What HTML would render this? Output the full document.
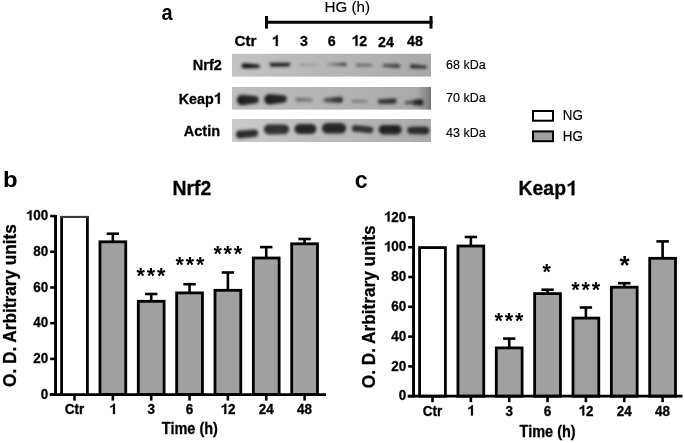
<!DOCTYPE html>
<html><head><meta charset="utf-8"><style>
html,body{margin:0;padding:0;background:#fff;}
svg{will-change:transform;display:block;font-family:"Liberation Sans", sans-serif;}
text[font-weight=bold]{stroke:#000;stroke-width:0.3px;}
text[font-weight=normal]{stroke:#000;stroke-width:0.15px;}
</style></head><body>
<svg width="685" height="443" viewBox="0 0 685 443">
<rect width="685" height="443" fill="#fff"/>
<text transform="translate(161.5,20.0) scale(0.885,1)" font-size="22.6" font-weight="bold" style="stroke:none">a</text>
<text transform="translate(324.55,11.90) scale(0.98,1)" font-size="15.5" font-weight="normal" text-anchor="start">HG (h)</text>
<line x1="265" y1="22.3" x2="432.5" y2="22.3" stroke="#000" stroke-width="3"/>
<line x1="266.5" y1="16" x2="266.5" y2="28.6" stroke="#000" stroke-width="3"/>
<line x1="431" y1="16" x2="431" y2="28.6" stroke="#000" stroke-width="3"/>
<text transform="translate(245.40,46.35) scale(1.0,1)" font-size="15.2" font-weight="bold" text-anchor="middle">Ctr</text>
<text transform="translate(275.60,45.90) scale(0.95,1)" font-size="15.0" font-weight="bold" text-anchor="middle"><tspan style="fill:none;stroke:none">1</tspan></text>
<path transform="translate(271.64,45.90) scale(14.250,-15.000)" d="M0.43,0 L0.43,0.716 L0.335,0.716 C0.30,0.63 0.21,0.575 0.09,0.545 L0.09,0.43 C0.165,0.455 0.235,0.49 0.29,0.535 L0.29,0 Z" stroke="#000" stroke-width="0.3" vector-effect="non-scaling-stroke"/>
<text transform="translate(303.85,45.75) scale(0.95,1)" font-size="15.0" font-weight="bold" text-anchor="middle">3</text>
<text transform="translate(331.75,45.65) scale(0.95,1)" font-size="15.0" font-weight="bold" text-anchor="middle">6</text>
<text transform="translate(359.30,45.80) scale(0.95,1)" font-size="15.0" font-weight="bold" text-anchor="middle"><tspan style="fill:none;stroke:none">1</tspan>2</text>
<path transform="translate(351.37,45.80) scale(14.250,-15.000)" d="M0.43,0 L0.43,0.716 L0.335,0.716 C0.30,0.63 0.21,0.575 0.09,0.545 L0.09,0.43 C0.165,0.455 0.235,0.49 0.29,0.535 L0.29,0 Z" stroke="#000" stroke-width="0.3" vector-effect="non-scaling-stroke"/>
<text transform="translate(385.90,46.60) scale(0.95,1)" font-size="15.0" font-weight="bold" text-anchor="middle">24</text>
<text transform="translate(414.95,45.75) scale(0.95,1)" font-size="15.0" font-weight="bold" text-anchor="middle">48</text>
<text transform="translate(221.80,70.15) scale(0.95,1)" font-size="15.3" font-weight="bold" text-anchor="end">Nrf2</text>
<text transform="translate(221.60,103.75) scale(0.935,1)" font-size="15.3" font-weight="bold" text-anchor="end">Keap<tspan style="fill:none;stroke:none">1</tspan></text>
<path transform="translate(213.64,103.75) scale(14.306,-15.300)" d="M0.43,0 L0.43,0.716 L0.335,0.716 C0.30,0.63 0.21,0.575 0.09,0.545 L0.09,0.43 C0.165,0.455 0.235,0.49 0.29,0.535 L0.29,0 Z" stroke="#000" stroke-width="0.3" vector-effect="non-scaling-stroke"/>
<text transform="translate(220.10,136.00) scale(0.95,1)" font-size="15.3" font-weight="bold" text-anchor="end">Actin</text>
<text x="446.00" y="69.30" font-size="12.5" font-weight="normal" text-anchor="start" >68 kDa</text>
<text x="446.00" y="101.90" font-size="12.5" font-weight="normal" text-anchor="start" >70 kDa</text>
<text x="446.00" y="136.90" font-size="12.5" font-weight="normal" text-anchor="start" >43 kDa</text>
<defs><filter id="bl" x="-30%" y="-100%" width="160%" height="300%"><feGaussianBlur stdDeviation="1.5"/></filter><linearGradient id="bg0" x1="0" x2="1" y1="0" y2="0"><stop offset="0" stop-color="#c3c3c3"/><stop offset="1" stop-color="#a8a8a8"/></linearGradient><linearGradient id="g1" x1="0" x2="1" y1="0" y2="0"><stop offset="0" stop-color="rgb(8,8,8)"/><stop offset="1" stop-color="rgb(30,30,30)"/></linearGradient><linearGradient id="g2" x1="0" x2="1" y1="0" y2="0"><stop offset="0" stop-color="rgb(30,30,30)"/><stop offset="1" stop-color="rgb(28,28,28)"/></linearGradient><linearGradient id="g3" x1="0" x2="1" y1="0" y2="0"><stop offset="0" stop-color="rgb(150,150,150)"/><stop offset="1" stop-color="rgb(158,158,158)"/></linearGradient><linearGradient id="g4" x1="0" x2="1" y1="0" y2="0"><stop offset="0" stop-color="rgb(140,140,140)"/><stop offset="1" stop-color="rgb(55,55,55)"/></linearGradient><linearGradient id="g5" x1="0" x2="1" y1="0" y2="0"><stop offset="0" stop-color="rgb(95,95,95)"/><stop offset="1" stop-color="rgb(100,100,100)"/></linearGradient><linearGradient id="g6" x1="0" x2="1" y1="0" y2="0"><stop offset="0" stop-color="rgb(85,85,85)"/><stop offset="1" stop-color="rgb(40,40,40)"/></linearGradient><linearGradient id="g7" x1="0" x2="1" y1="0" y2="0"><stop offset="0" stop-color="rgb(35,35,35)"/><stop offset="1" stop-color="rgb(60,60,60)"/></linearGradient><linearGradient id="bg1" x1="0" x2="1" y1="0" y2="0"><stop offset="0" stop-color="#bebebe"/><stop offset="1" stop-color="#a8a8a8"/></linearGradient><linearGradient id="g8" x1="0" x2="1" y1="0" y2="0"><stop offset="0" stop-color="rgb(28,28,28)"/><stop offset="1" stop-color="rgb(40,40,40)"/></linearGradient><linearGradient id="g9" x1="0" x2="1" y1="0" y2="0"><stop offset="0" stop-color="rgb(28,28,28)"/><stop offset="1" stop-color="rgb(40,40,40)"/></linearGradient><linearGradient id="g10" x1="0" x2="1" y1="0" y2="0"><stop offset="0" stop-color="rgb(100,100,100)"/><stop offset="1" stop-color="rgb(120,120,120)"/></linearGradient><linearGradient id="g11" x1="0" x2="1" y1="0" y2="0"><stop offset="0" stop-color="rgb(95,95,95)"/><stop offset="1" stop-color="rgb(38,38,38)"/></linearGradient><linearGradient id="g12" x1="0" x2="1" y1="0" y2="0"><stop offset="0" stop-color="rgb(122,122,122)"/><stop offset="1" stop-color="rgb(128,128,128)"/></linearGradient><linearGradient id="g13" x1="0" x2="1" y1="0" y2="0"><stop offset="0" stop-color="rgb(60,60,60)"/><stop offset="1" stop-color="rgb(45,45,45)"/></linearGradient><linearGradient id="g14" x1="0" x2="1" y1="0" y2="0"><stop offset="0" stop-color="rgb(85,85,85)"/><stop offset="1" stop-color="rgb(70,70,70)"/></linearGradient><linearGradient id="g15" x1="0" x2="1" y1="0" y2="0"><stop offset="0" stop-color="rgb(45,45,45)"/><stop offset="1" stop-color="rgb(30,30,30)"/></linearGradient><linearGradient id="bg2" x1="0" x2="1" y1="0" y2="0"><stop offset="0" stop-color="#cbcbcb"/><stop offset="1" stop-color="#a9a9a9"/></linearGradient><linearGradient id="g16" x1="0" x2="1" y1="0" y2="0"><stop offset="0" stop-color="rgb(42,42,42)"/><stop offset="1" stop-color="rgb(48,48,48)"/></linearGradient><linearGradient id="g17" x1="0" x2="1" y1="0" y2="0"><stop offset="0" stop-color="rgb(50,50,50)"/><stop offset="1" stop-color="rgb(50,50,50)"/></linearGradient><linearGradient id="g18" x1="0" x2="1" y1="0" y2="0"><stop offset="0" stop-color="rgb(40,40,40)"/><stop offset="1" stop-color="rgb(40,40,40)"/></linearGradient><linearGradient id="g19" x1="0" x2="1" y1="0" y2="0"><stop offset="0" stop-color="rgb(38,38,38)"/><stop offset="1" stop-color="rgb(38,38,38)"/></linearGradient><linearGradient id="g20" x1="0" x2="1" y1="0" y2="0"><stop offset="0" stop-color="rgb(50,50,50)"/><stop offset="1" stop-color="rgb(50,50,50)"/></linearGradient><linearGradient id="g21" x1="0" x2="1" y1="0" y2="0"><stop offset="0" stop-color="rgb(32,32,32)"/><stop offset="1" stop-color="rgb(32,32,32)"/></linearGradient><linearGradient id="g22" x1="0" x2="1" y1="0" y2="0"><stop offset="0" stop-color="rgb(42,42,42)"/><stop offset="1" stop-color="rgb(40,40,40)"/></linearGradient><linearGradient id="sh" x1="0" x2="1" y1="0" y2="0"><stop offset="0" stop-color="#000" stop-opacity="0"/><stop offset="0.7" stop-color="#000" stop-opacity="0.18"/><stop offset="1" stop-color="#000" stop-opacity="0.32"/></linearGradient></defs>
<rect x="232" y="53.8" width="199" height="22.80" fill="url(#bg0)"/>
<path d="M244.10,63.30 L258.30,64.50 A1.70,1.70 0 0 1 258.30,67.90 L244.10,68.30 A2.50,2.50 0 0 1 244.10,63.30 Z" fill="url(#g1)" filter="url(#bl)"/>
<path d="M271.60,62.80 L288.40,62.70 A1.90,1.90 0 0 1 288.40,66.50 L271.60,66.80 A2.00,2.00 0 0 1 271.60,62.80 Z" fill="url(#g2)" filter="url(#bl)"/>
<path d="M300.00,64.00 L316.00,64.10 A0.90,0.90 0 0 1 316.00,65.90 L300.00,66.00 A1.00,1.00 0 0 1 300.00,64.00 Z" fill="url(#g3)" filter="url(#bl)"/>
<path d="M327.90,63.60 L344.90,62.70 A1.70,1.70 0 0 1 344.90,66.10 L327.90,65.60 A1.00,1.00 0 0 1 327.90,63.60 Z" fill="url(#g4)" filter="url(#bl)"/>
<path d="M356.90,63.80 L371.20,63.90 A1.20,1.20 0 0 1 371.20,66.30 L356.90,66.40 A1.30,1.30 0 0 1 356.90,63.80 Z" fill="url(#g5)" filter="url(#bl)"/>
<path d="M383.90,64.10 L398.50,64.30 A1.70,1.70 0 0 1 398.50,67.70 L383.90,67.10 A1.50,1.50 0 0 1 383.90,64.10 Z" fill="url(#g6)" filter="url(#bl)"/>
<path d="M411.90,64.30 L425.60,65.60 A1.60,1.60 0 0 1 425.60,68.80 L411.90,68.30 A2.00,2.00 0 0 1 411.90,64.30 Z" fill="url(#g7)" filter="url(#bl)"/>
<rect x="232" y="87.0" width="199" height="22.60" fill="url(#bg1)"/>
<path d="M242.10,94.70 L255.00,96.10 A3.70,3.70 0 0 1 255.00,103.50 L242.10,105.30 A5.30,5.30 0 0 1 242.10,94.70 Z" fill="url(#g8)" filter="url(#bl)"/>
<path d="M269.50,93.90 L283.10,95.30 A3.70,3.70 0 0 1 283.10,102.70 L269.50,104.50 A5.30,5.30 0 0 1 269.50,93.90 Z" fill="url(#g9)" filter="url(#bl)"/>
<path d="M297.30,97.80 L311.40,98.40 A1.50,1.50 0 0 1 311.40,101.40 L297.30,101.60 A1.90,1.90 0 0 1 297.30,97.80 Z" fill="url(#g10)" filter="url(#bl)"/>
<path d="M325.50,98.10 L339.90,96.70 A3.10,3.10 0 0 1 339.90,102.90 L325.50,102.30 A2.10,2.10 0 0 1 325.50,98.10 Z" fill="url(#g11)" filter="url(#bl)"/>
<path d="M353.30,99.80 L366.50,100.00 A1.30,1.30 0 0 1 366.50,102.60 L353.30,102.80 A1.50,1.50 0 0 1 353.30,99.80 Z" fill="url(#g12)" filter="url(#bl)"/>
<path d="M379.90,99.30 L393.90,98.30 A2.70,2.70 0 0 1 393.90,103.70 L379.90,103.90 A2.30,2.30 0 0 1 379.90,99.30 Z" fill="url(#g13)" filter="url(#bl)"/>
<path d="M406.20,101.00 L413.50,100.50 A1.90,1.90 0 0 1 413.50,104.30 L406.20,104.20 A1.60,1.60 0 0 1 406.20,101.00 Z" fill="url(#g14)" filter="url(#bl)"/>
<path d="M416.10,99.50 L420.50,99.30 A3.10,3.10 0 0 1 420.50,105.50 L416.10,105.30 A2.90,2.90 0 0 1 416.10,99.50 Z" fill="url(#g15)" filter="url(#bl)"/>
<rect x="232" y="119.0" width="199" height="23.00" fill="url(#bg2)"/>
<path d="M239.90,130.40 L254.50,129.50 A3.70,3.70 0 0 1 254.50,136.90 L239.90,138.40 A4.00,4.00 0 0 1 239.90,130.40 Z" fill="url(#g16)" filter="url(#bl)"/>
<path d="M268.90,124.20 L284.30,124.40 A4.90,4.90 0 0 1 284.30,134.20 L268.90,134.40 A5.10,5.10 0 0 1 268.90,124.20 Z" fill="url(#g17)" filter="url(#bl)"/>
<path d="M299.40,124.00 L311.40,124.00 A5.00,5.00 0 0 1 311.40,134.00 L299.40,134.00 A5.00,5.00 0 0 1 299.40,124.00 Z" fill="url(#g18)" filter="url(#bl)"/>
<path d="M327.10,123.00 L341.00,123.00 A5.30,5.30 0 0 1 341.00,133.60 L327.10,133.60 A5.30,5.30 0 0 1 327.10,123.00 Z" fill="url(#g19)" filter="url(#bl)"/>
<path d="M355.20,125.00 L369.90,126.40 A3.40,3.40 0 0 1 369.90,133.20 L355.20,131.80 A3.40,3.40 0 0 1 355.20,125.00 Z" fill="url(#g20)" filter="url(#bl)"/>
<path d="M383.30,125.10 L397.00,125.10 A4.70,4.70 0 0 1 397.00,134.50 L383.30,134.50 A4.70,4.70 0 0 1 383.30,125.10 Z" fill="url(#g21)" filter="url(#bl)"/>
<path d="M410.80,126.70 L425.10,126.40 A4.10,4.10 0 0 1 425.10,134.60 L410.80,133.90 A3.60,3.60 0 0 1 410.80,126.70 Z" fill="url(#g22)" filter="url(#bl)"/>
<rect x="416" y="87" width="15" height="22.6" fill="url(#sh)"/>
<rect x="533" y="111" width="20" height="9.7" fill="#fff" stroke="#000" stroke-width="2"/>
<rect x="533" y="131.4" width="20" height="9.8" fill="#a0a0a0" stroke="#000" stroke-width="2"/>
<text transform="translate(562.80,119.90) scale(0.905,1)" font-size="14.8" font-weight="normal" text-anchor="start">NG</text>
<text transform="translate(562.80,140.60) scale(0.905,1)" font-size="14.8" font-weight="normal" text-anchor="start">HG</text>
<line x1="50.2" y1="394.60" x2="55.550000000000004" y2="394.60" stroke="#000" stroke-width="2.6"/>
<text transform="translate(48.20,398.80) scale(0.955,1)" font-size="14.1" font-weight="bold" text-anchor="end">0</text>
<line x1="50.2" y1="358.89" x2="55.550000000000004" y2="358.89" stroke="#000" stroke-width="2.6"/>
<text transform="translate(48.20,363.09) scale(0.955,1)" font-size="14.1" font-weight="bold" text-anchor="end">20</text>
<line x1="50.2" y1="323.18" x2="55.550000000000004" y2="323.18" stroke="#000" stroke-width="2.6"/>
<text transform="translate(48.20,327.38) scale(0.955,1)" font-size="14.1" font-weight="bold" text-anchor="end">40</text>
<line x1="50.2" y1="287.47" x2="55.550000000000004" y2="287.47" stroke="#000" stroke-width="2.6"/>
<text transform="translate(48.20,291.67) scale(0.955,1)" font-size="14.1" font-weight="bold" text-anchor="end">60</text>
<line x1="50.2" y1="251.76" x2="55.550000000000004" y2="251.76" stroke="#000" stroke-width="2.6"/>
<text transform="translate(48.20,255.96) scale(0.955,1)" font-size="14.1" font-weight="bold" text-anchor="end">80</text>
<line x1="50.2" y1="216.05" x2="55.550000000000004" y2="216.05" stroke="#000" stroke-width="2.6"/>
<text transform="translate(48.20,220.25) scale(0.955,1)" font-size="14.1" font-weight="bold" text-anchor="end"><tspan style="fill:none;stroke:none">1</tspan>00</text>
<path transform="translate(25.73,220.25) scale(13.465,-14.100)" d="M0.43,0 L0.43,0.716 L0.335,0.716 C0.30,0.63 0.21,0.575 0.09,0.545 L0.09,0.43 C0.165,0.455 0.235,0.49 0.29,0.535 L0.29,0 Z" stroke="#000" stroke-width="0.3" vector-effect="non-scaling-stroke"/>
<rect x="61.60" y="216.95" width="25.8" height="177.65" fill="#fff"/>
<line x1="61.60" y1="215.95" x2="61.60" y2="394.60" stroke="#000" stroke-width="2.8"/>
<line x1="87.40" y1="215.95" x2="87.40" y2="394.60" stroke="#000" stroke-width="2.8"/>
<line x1="60.20" y1="216.95" x2="88.80" y2="216.95" stroke="#3a3a3a" stroke-width="2.1"/>
<line x1="112.85" y1="233.7" x2="112.85" y2="241.8" stroke="#000" stroke-width="2.6"/>
<line x1="106.65" y1="233.7" x2="119.05" y2="233.7" stroke="#000" stroke-width="2.6"/>
<rect x="99.95" y="241.8" width="25.8" height="152.80" fill="#a0a0a0" stroke="#000" stroke-width="2.8"/>
<line x1="151.20" y1="294.0" x2="151.20" y2="301.3" stroke="#000" stroke-width="2.6"/>
<line x1="145.00" y1="294.0" x2="157.40" y2="294.0" stroke="#000" stroke-width="2.6"/>
<rect x="138.30" y="301.3" width="25.8" height="93.30" fill="#a0a0a0" stroke="#000" stroke-width="2.8"/>
<line x1="189.55" y1="284.2" x2="189.55" y2="292.9" stroke="#000" stroke-width="2.6"/>
<line x1="183.35" y1="284.2" x2="195.75" y2="284.2" stroke="#000" stroke-width="2.6"/>
<rect x="176.65" y="292.9" width="25.8" height="101.70" fill="#a0a0a0" stroke="#000" stroke-width="2.8"/>
<line x1="227.90" y1="272.5" x2="227.90" y2="290.3" stroke="#000" stroke-width="2.6"/>
<line x1="221.70" y1="272.5" x2="234.10" y2="272.5" stroke="#000" stroke-width="2.6"/>
<rect x="215.00" y="290.3" width="25.8" height="104.30" fill="#a0a0a0" stroke="#000" stroke-width="2.8"/>
<line x1="266.25" y1="247.1" x2="266.25" y2="258" stroke="#000" stroke-width="2.6"/>
<line x1="260.05" y1="247.1" x2="272.45" y2="247.1" stroke="#000" stroke-width="2.6"/>
<rect x="253.35" y="258" width="25.8" height="136.60" fill="#a0a0a0" stroke="#000" stroke-width="2.8"/>
<line x1="304.60" y1="239.0" x2="304.60" y2="243.8" stroke="#000" stroke-width="2.6"/>
<line x1="298.40" y1="239.0" x2="310.80" y2="239.0" stroke="#000" stroke-width="2.6"/>
<rect x="291.70" y="243.8" width="25.8" height="150.80" fill="#a0a0a0" stroke="#000" stroke-width="2.8"/>
<line x1="55.550000000000004" y1="215.0" x2="55.550000000000004" y2="395.8" stroke="#000" stroke-width="2.9"/>
<line x1="49.7" y1="394.6" x2="326" y2="394.6" stroke="#000" stroke-width="2.7"/>
<line x1="74.50" y1="394.6" x2="74.50" y2="400.6" stroke="#000" stroke-width="2.6"/>
<text transform="translate(74.50,413.90) scale(0.95,1)" font-size="14.2" font-weight="bold" text-anchor="middle">Ctr</text>
<line x1="112.85" y1="394.6" x2="112.85" y2="400.6" stroke="#000" stroke-width="2.6"/>
<text transform="translate(112.85,413.90) scale(0.95,1)" font-size="14.2" font-weight="bold" text-anchor="middle"><tspan style="fill:none;stroke:none">1</tspan></text>
<path transform="translate(109.10,413.90) scale(13.490,-14.200)" d="M0.43,0 L0.43,0.716 L0.335,0.716 C0.30,0.63 0.21,0.575 0.09,0.545 L0.09,0.43 C0.165,0.455 0.235,0.49 0.29,0.535 L0.29,0 Z" stroke="#000" stroke-width="0.3" vector-effect="non-scaling-stroke"/>
<line x1="151.20" y1="394.6" x2="151.20" y2="400.6" stroke="#000" stroke-width="2.6"/>
<text transform="translate(151.20,413.90) scale(0.95,1)" font-size="14.2" font-weight="bold" text-anchor="middle">3</text>
<line x1="189.55" y1="394.6" x2="189.55" y2="400.6" stroke="#000" stroke-width="2.6"/>
<text transform="translate(189.55,413.90) scale(0.95,1)" font-size="14.2" font-weight="bold" text-anchor="middle">6</text>
<line x1="227.90" y1="394.6" x2="227.90" y2="400.6" stroke="#000" stroke-width="2.6"/>
<text transform="translate(227.90,413.90) scale(0.95,1)" font-size="14.2" font-weight="bold" text-anchor="middle"><tspan style="fill:none;stroke:none">1</tspan>2</text>
<path transform="translate(220.40,413.90) scale(13.490,-14.200)" d="M0.43,0 L0.43,0.716 L0.335,0.716 C0.30,0.63 0.21,0.575 0.09,0.545 L0.09,0.43 C0.165,0.455 0.235,0.49 0.29,0.535 L0.29,0 Z" stroke="#000" stroke-width="0.3" vector-effect="non-scaling-stroke"/>
<line x1="266.25" y1="394.6" x2="266.25" y2="400.6" stroke="#000" stroke-width="2.6"/>
<text transform="translate(266.25,413.90) scale(0.95,1)" font-size="14.2" font-weight="bold" text-anchor="middle">24</text>
<line x1="304.60" y1="394.6" x2="304.60" y2="400.6" stroke="#000" stroke-width="2.6"/>
<text transform="translate(304.60,413.90) scale(0.95,1)" font-size="14.2" font-weight="bold" text-anchor="middle">48</text>
<text x="140.80" y="282.82" font-size="21.5" font-weight="bold" text-anchor="middle" style="stroke:none">*</text>
<text x="151.00" y="282.82" font-size="21.5" font-weight="bold" text-anchor="middle" style="stroke:none">*</text>
<text x="161.20" y="282.82" font-size="21.5" font-weight="bold" text-anchor="middle" style="stroke:none">*</text>
<text x="179.80" y="272.42" font-size="21.5" font-weight="bold" text-anchor="middle" style="stroke:none">*</text>
<text x="190.00" y="272.42" font-size="21.5" font-weight="bold" text-anchor="middle" style="stroke:none">*</text>
<text x="200.20" y="272.42" font-size="21.5" font-weight="bold" text-anchor="middle" style="stroke:none">*</text>
<text x="217.60" y="261.32" font-size="21.5" font-weight="bold" text-anchor="middle" style="stroke:none">*</text>
<text x="227.80" y="261.32" font-size="21.5" font-weight="bold" text-anchor="middle" style="stroke:none">*</text>
<text x="238.00" y="261.32" font-size="21.5" font-weight="bold" text-anchor="middle" style="stroke:none">*</text>
<text transform="translate(2.92,187.10) scale(1.05,1)" font-size="22.75" font-weight="bold" style="stroke:none">b</text>
<text transform="translate(172.50,195.10) scale(0.955,1)" font-size="20.3" font-weight="bold" text-anchor="start">Nrf2</text>
<text transform="translate(161.79,434.35) scale(0.93,1)" font-size="15.6" font-weight="bold" text-anchor="start">Time (h)</text>
<text transform="translate(16.1,305.55) rotate(-90) scale(0.956,1)" x="0" y="0" font-size="18" font-weight="bold" text-anchor="middle">O. D. Arbitrary units</text>
<line x1="408.2" y1="396.20" x2="413.55" y2="396.20" stroke="#000" stroke-width="2.6"/>
<text transform="translate(406.20,400.40) scale(0.955,1)" font-size="14.1" font-weight="bold" text-anchor="end">0</text>
<line x1="408.2" y1="366.40" x2="413.55" y2="366.40" stroke="#000" stroke-width="2.6"/>
<text transform="translate(406.20,370.60) scale(0.955,1)" font-size="14.1" font-weight="bold" text-anchor="end">20</text>
<line x1="408.2" y1="336.60" x2="413.55" y2="336.60" stroke="#000" stroke-width="2.6"/>
<text transform="translate(406.20,340.80) scale(0.955,1)" font-size="14.1" font-weight="bold" text-anchor="end">40</text>
<line x1="408.2" y1="306.80" x2="413.55" y2="306.80" stroke="#000" stroke-width="2.6"/>
<text transform="translate(406.20,311.00) scale(0.955,1)" font-size="14.1" font-weight="bold" text-anchor="end">60</text>
<line x1="408.2" y1="277.00" x2="413.55" y2="277.00" stroke="#000" stroke-width="2.6"/>
<text transform="translate(406.20,281.20) scale(0.955,1)" font-size="14.1" font-weight="bold" text-anchor="end">80</text>
<line x1="408.2" y1="247.20" x2="413.55" y2="247.20" stroke="#000" stroke-width="2.6"/>
<text transform="translate(406.20,251.40) scale(0.955,1)" font-size="14.1" font-weight="bold" text-anchor="end"><tspan style="fill:none;stroke:none">1</tspan>00</text>
<path transform="translate(383.73,251.40) scale(13.465,-14.100)" d="M0.43,0 L0.43,0.716 L0.335,0.716 C0.30,0.63 0.21,0.575 0.09,0.545 L0.09,0.43 C0.165,0.455 0.235,0.49 0.29,0.535 L0.29,0 Z" stroke="#000" stroke-width="0.3" vector-effect="non-scaling-stroke"/>
<line x1="408.2" y1="217.40" x2="413.55" y2="217.40" stroke="#000" stroke-width="2.6"/>
<text transform="translate(406.20,221.60) scale(0.955,1)" font-size="14.1" font-weight="bold" text-anchor="end"><tspan style="fill:none;stroke:none">1</tspan>20</text>
<path transform="translate(383.73,221.60) scale(13.465,-14.100)" d="M0.43,0 L0.43,0.716 L0.335,0.716 C0.30,0.63 0.21,0.575 0.09,0.545 L0.09,0.43 C0.165,0.455 0.235,0.49 0.29,0.535 L0.29,0 Z" stroke="#000" stroke-width="0.3" vector-effect="non-scaling-stroke"/>
<rect x="419.60" y="247.6" width="25.8" height="148.60" fill="#fff" stroke="#000" stroke-width="2.8"/>
<line x1="470.85" y1="237.0" x2="470.85" y2="246.0" stroke="#000" stroke-width="2.6"/>
<line x1="464.65" y1="237.0" x2="477.05" y2="237.0" stroke="#000" stroke-width="2.6"/>
<rect x="457.95" y="246.0" width="25.8" height="150.20" fill="#a0a0a0" stroke="#000" stroke-width="2.8"/>
<line x1="509.20" y1="338.59999999999997" x2="509.20" y2="347.9" stroke="#000" stroke-width="2.6"/>
<line x1="503.00" y1="338.59999999999997" x2="515.40" y2="338.59999999999997" stroke="#000" stroke-width="2.6"/>
<rect x="496.30" y="347.9" width="25.8" height="48.30" fill="#a0a0a0" stroke="#000" stroke-width="2.8"/>
<line x1="547.55" y1="289.7" x2="547.55" y2="293.6" stroke="#000" stroke-width="2.6"/>
<line x1="541.35" y1="289.7" x2="553.75" y2="289.7" stroke="#000" stroke-width="2.6"/>
<rect x="534.65" y="293.6" width="25.8" height="102.60" fill="#a0a0a0" stroke="#000" stroke-width="2.8"/>
<line x1="585.90" y1="307.5" x2="585.90" y2="318.1" stroke="#000" stroke-width="2.6"/>
<line x1="579.70" y1="307.5" x2="592.10" y2="307.5" stroke="#000" stroke-width="2.6"/>
<rect x="573.00" y="318.1" width="25.8" height="78.10" fill="#a0a0a0" stroke="#000" stroke-width="2.8"/>
<line x1="624.25" y1="283.2" x2="624.25" y2="287.2" stroke="#000" stroke-width="2.6"/>
<line x1="618.05" y1="283.2" x2="630.45" y2="283.2" stroke="#000" stroke-width="2.6"/>
<rect x="611.35" y="287.2" width="25.8" height="109.00" fill="#a0a0a0" stroke="#000" stroke-width="2.8"/>
<line x1="662.60" y1="241.39999999999998" x2="662.60" y2="258.3" stroke="#000" stroke-width="2.6"/>
<line x1="656.40" y1="241.39999999999998" x2="668.80" y2="241.39999999999998" stroke="#000" stroke-width="2.6"/>
<rect x="649.70" y="258.3" width="25.8" height="137.90" fill="#a0a0a0" stroke="#000" stroke-width="2.8"/>
<line x1="413.55" y1="216.2" x2="413.55" y2="397.4" stroke="#000" stroke-width="2.9"/>
<line x1="407.7" y1="396.2" x2="682.5" y2="396.2" stroke="#000" stroke-width="2.7"/>
<line x1="432.50" y1="396.2" x2="432.50" y2="402.2" stroke="#000" stroke-width="2.6"/>
<text transform="translate(432.50,415.50) scale(0.95,1)" font-size="14.2" font-weight="bold" text-anchor="middle">Ctr</text>
<line x1="470.85" y1="396.2" x2="470.85" y2="402.2" stroke="#000" stroke-width="2.6"/>
<text transform="translate(470.85,415.50) scale(0.95,1)" font-size="14.2" font-weight="bold" text-anchor="middle"><tspan style="fill:none;stroke:none">1</tspan></text>
<path transform="translate(467.10,415.50) scale(13.490,-14.200)" d="M0.43,0 L0.43,0.716 L0.335,0.716 C0.30,0.63 0.21,0.575 0.09,0.545 L0.09,0.43 C0.165,0.455 0.235,0.49 0.29,0.535 L0.29,0 Z" stroke="#000" stroke-width="0.3" vector-effect="non-scaling-stroke"/>
<line x1="509.20" y1="396.2" x2="509.20" y2="402.2" stroke="#000" stroke-width="2.6"/>
<text transform="translate(509.20,415.50) scale(0.95,1)" font-size="14.2" font-weight="bold" text-anchor="middle">3</text>
<line x1="547.55" y1="396.2" x2="547.55" y2="402.2" stroke="#000" stroke-width="2.6"/>
<text transform="translate(547.55,415.50) scale(0.95,1)" font-size="14.2" font-weight="bold" text-anchor="middle">6</text>
<line x1="585.90" y1="396.2" x2="585.90" y2="402.2" stroke="#000" stroke-width="2.6"/>
<text transform="translate(585.90,415.50) scale(0.95,1)" font-size="14.2" font-weight="bold" text-anchor="middle"><tspan style="fill:none;stroke:none">1</tspan>2</text>
<path transform="translate(578.40,415.50) scale(13.490,-14.200)" d="M0.43,0 L0.43,0.716 L0.335,0.716 C0.30,0.63 0.21,0.575 0.09,0.545 L0.09,0.43 C0.165,0.455 0.235,0.49 0.29,0.535 L0.29,0 Z" stroke="#000" stroke-width="0.3" vector-effect="non-scaling-stroke"/>
<line x1="624.25" y1="396.2" x2="624.25" y2="402.2" stroke="#000" stroke-width="2.6"/>
<text transform="translate(624.25,415.50) scale(0.95,1)" font-size="14.2" font-weight="bold" text-anchor="middle">24</text>
<line x1="662.60" y1="396.2" x2="662.60" y2="402.2" stroke="#000" stroke-width="2.6"/>
<text transform="translate(662.60,415.50) scale(0.95,1)" font-size="14.2" font-weight="bold" text-anchor="middle">48</text>
<text x="498.80" y="327.92" font-size="21.5" font-weight="bold" text-anchor="middle" style="stroke:none">*</text>
<text x="509.00" y="327.92" font-size="21.5" font-weight="bold" text-anchor="middle" style="stroke:none">*</text>
<text x="519.20" y="327.92" font-size="21.5" font-weight="bold" text-anchor="middle" style="stroke:none">*</text>
<text x="546.60" y="279.22" font-size="21.5" font-weight="bold" text-anchor="middle" style="stroke:none">*</text>
<text x="575.50" y="297.12" font-size="21.5" font-weight="bold" text-anchor="middle" style="stroke:none">*</text>
<text x="585.70" y="297.12" font-size="21.5" font-weight="bold" text-anchor="middle" style="stroke:none">*</text>
<text x="595.90" y="297.12" font-size="21.5" font-weight="bold" text-anchor="middle" style="stroke:none">*</text>
<text x="624.50" y="273.64" font-size="26.3" font-weight="bold" text-anchor="middle" style="stroke:none">*</text>
<text transform="translate(354.70,187.70) scale(0.97,1)" font-size="23.9" font-weight="bold" style="stroke:none">c</text>
<text transform="translate(518.60,195.30) scale(0.955,1)" font-size="20.3" font-weight="bold" text-anchor="start">Keap<tspan style="fill:none;stroke:none">1</tspan></text>
<path transform="translate(566.01,195.30) scale(19.387,-20.300)" d="M0.43,0 L0.43,0.716 L0.335,0.716 C0.30,0.63 0.21,0.575 0.09,0.545 L0.09,0.43 C0.165,0.455 0.235,0.49 0.29,0.535 L0.29,0 Z" stroke="#000" stroke-width="0.3" vector-effect="non-scaling-stroke"/>
<text transform="translate(519.54,436.90) scale(0.93,1)" font-size="15.6" font-weight="bold" text-anchor="start">Time (h)</text>
<text transform="translate(375.3,306.8) rotate(-90) scale(0.956,1)" x="0" y="0" font-size="18" font-weight="bold" text-anchor="middle">O. D. Arbitrary units</text>
</svg>
</body></html>
